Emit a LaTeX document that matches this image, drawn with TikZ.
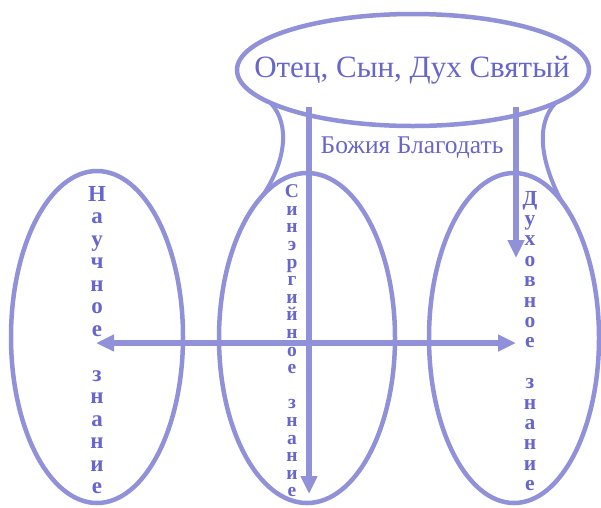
\documentclass[tikz,border=0pt]{standalone}
\usepackage{fontspec}
\setmainfont{Liberation Serif}
\usetikzlibrary{shapes.geometric,arrows.meta}
\definecolor{lineblue}{RGB}{145,145,218}
\definecolor{textblue}{RGB}{102,102,204}
\tikzset{
  oval/.style={draw=lineblue, line width=4.5pt, ellipse, inner sep=0pt, outer sep=0pt},
  leg/.style={draw=lineblue, line width=4pt},
  flow/.style={draw=lineblue, line width=5.5pt, -{Triangle[length=18pt,width=16pt]}},
  flow2/.style={draw=lineblue, line width=5.5pt, {Triangle[length=18pt,width=16pt]}-{Triangle[length=18pt,width=16pt]}},
  vtext/.style={text=textblue, align=center, inner sep=0pt, font=\bfseries}
}
\begin{document}
\begin{tikzpicture}[x=1pt,y=-1pt]
\useasboundingbox (0,0) rectangle (601,507);
% ellipses
\node[oval, minimum width=352pt, minimum height=112pt] (top) at (413,70) {};
\node[oval, minimum width=172pt, minimum height=332pt] (left) at (97,337) {};
\node[oval, minimum width=176pt, minimum height=330pt] (mid) at (307,338) {};
\node[oval, minimum width=170pt, minimum height=330pt] (right) at (514,338) {};
% legs
\draw[leg] (top.193) .. controls (291,125) and (285,162) .. (mid.107);
\draw[leg] (top.-13) .. controls (535,125) and (541,162) .. (right.71);
% labels
\node[text=textblue, font=\fontsize{31}{31}\selectfont, inner sep=0pt] (title) at (412,70) {Отец, Сын, Дух Святый};
\node[text=textblue, font=\fontsize{25.5}{25.5}\selectfont, inner sep=0pt] (grace) at (412,148) {Божия Благодать};
% arrows
\coordinate (g1) at (309,107);
\coordinate (g2) at (309,494);
\coordinate (h1) at (516,107);
\coordinate (h2) at (516,258);
\coordinate (k1) at (96,343);
\coordinate (k2) at (516,343);
\draw[flow] (g1) -- (g2);
\draw[flow] (h1) -- (h2);
\draw[flow2] (k1) -- (k2);
% vertical texts
\node[vtext, font=\bfseries\fontsize{23}{22.5}\selectfont] (sci) at (97,340)
  {Н\\а\\у\\ч\\н\\о\\е\\[22.5pt]з\\н\\а\\н\\и\\е};
\node[vtext, font=\bfseries\fontsize{19.5}{17.6}\selectfont] (syn) at (292,341)
  {С\\и\\н\\э\\р\\г\\и\\й\\н\\о\\е\\[17.6pt]з\\н\\а\\н\\и\\е};
\node[vtext, font=\bfseries\fontsize{21.5}{20.4}\selectfont] (spi) at (530,341)
  {Д\\у\\х\\о\\в\\н\\о\\е\\[20.4pt]з\\н\\а\\н\\и\\е};
\end{tikzpicture}
\end{document}
